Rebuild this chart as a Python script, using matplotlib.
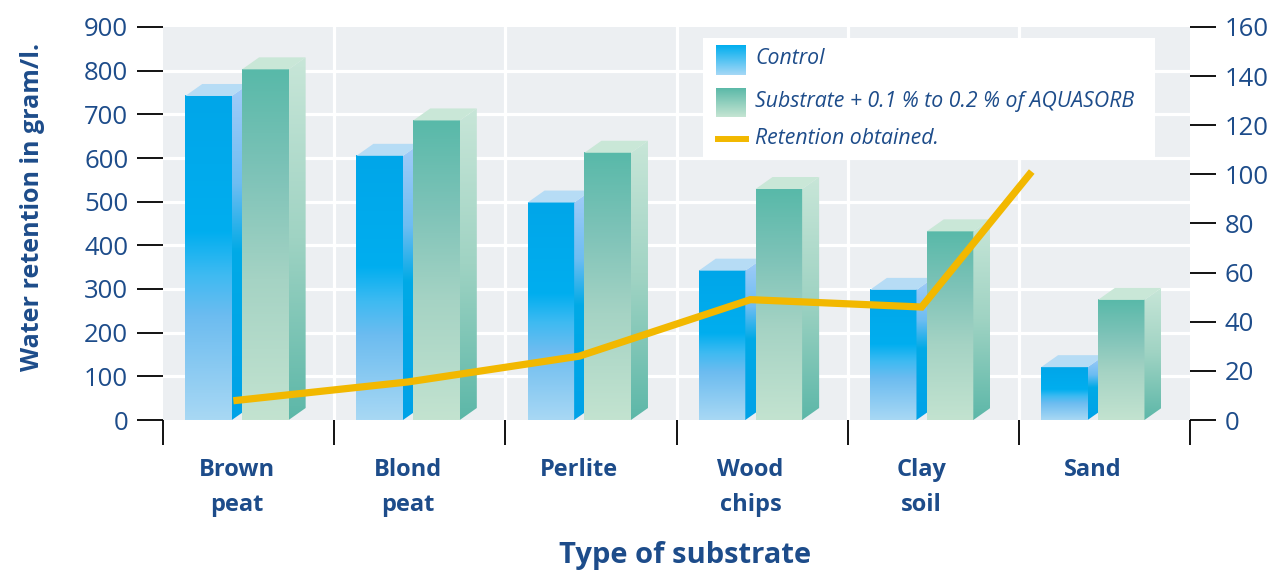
import numpy as np
import matplotlib
matplotlib.use('Agg')
import matplotlib.pyplot as plt
from matplotlib.colors import LinearSegmentedColormap
from matplotlib.patches import Polygon, Rectangle
from matplotlib.lines import Line2D

categories = ['Brown\npeat', 'Blond\npeat', 'Perlite', 'Wood\nchips', 'Clay\nsoil', 'Sand']
control = [742, 605, 498, 342, 298, 121]
aquasorb = [803, 686, 612, 529, 432, 275]
retention = [8, 15.5, 26, 49, 46, 100]
# where the retention readings sit along the category axis
retention_pos = [0, 1, 2, 3, 4, 4.63]

navy = '#1d4c8a'
yellow = '#f2b800'
plt.rcParams['font.family'] = ['Open Sans', 'DejaVu Sans']

W, H = 1275, 575
fig = plt.figure(figsize=(W / 100, H / 100), dpi=100)
ax = fig.add_axes([163 / W, 155 / H, 1027 / W, 393 / H])
ax.set_facecolor('#eceff2')

xmin, xmax = -0.432, 5.568
# 3d depth of the bars (17 px right, 12 px up)
dx = 17 * (xmax - xmin) / 1027
dy = 12 * 900 / 393
bw = 0.272
gap = 0.03

ctrl_front = [(0, '#00a6e9'), (0.42, '#00aeef'), (0.55, '#3dbaf2'), (0.68, '#6cbcf0'), (1, '#a8d8f4')]
ctrl_side = [(0, '#a4ccf8'), (0.3, '#6dbdf2'), (0.5, '#00aae6'), (1, '#00a2e8')]
ctrl_top = '#b6dcf5'
aq_front = [(0, '#58b9a9'), (0.3, '#7ec3b8'), (0.6, '#a5d3c4'), (1, '#c3e3d0')]
aq_side = [(0, '#c8e6d8'), (0.5, '#9fd3c3'), (1, '#5cb7a8')]
aq_top = '#c9e7d7'


def vgrad(stops):
    cmap = LinearSegmentedColormap.from_list('g', stops)
    return cmap(np.linspace(0, 1, 256))[:, None, :]


def bar3d(x0, h, front, side, top, z):
    x1 = x0 + bw
    ax.imshow(vgrad(front), extent=[x0, x1, 0, h], origin='upper',
              aspect='auto', zorder=z, interpolation='bilinear')
    sp = Polygon([(x1, 0), (x1 + dx, dy), (x1 + dx, h + dy), (x1, h)],
                 closed=True, fc='none', ec='none')
    ax.add_patch(sp)
    im = ax.imshow(vgrad(side), extent=[x1, x1 + dx, 0, h + dy], origin='upper',
                   aspect='auto', zorder=z, interpolation='bilinear')
    im.set_clip_path(sp)
    ax.add_patch(Polygon([(x0, h), (x0 + dx, h + dy), (x1 + dx, h + dy), (x1, h)],
                         closed=True, fc=top, ec='none', zorder=z))


for i in range(len(categories)):
    bar3d(i - gap - bw, control[i], ctrl_front, ctrl_side, ctrl_top, 2 + i * 0.1)
    bar3d(i + gap, aquasorb[i], aq_front, aq_side, aq_top, 2.05 + i * 0.1)

bounds = np.arange(len(categories) + 1) + xmin
for v in range(100, 900, 100):
    ax.axhline(v, color='white', lw=2.3, zorder=1)
for b in bounds[1:-1]:
    ax.axvline(b, color='white', lw=2.3, zorder=1)

ax.set_xlim(xmin, xmax)
ax.set_ylim(0, 900)
for s in ax.spines.values():
    s.set_visible(False)

ax.set_xticks(bounds)
ax.set_xticklabels([])
ax.set_xticks(range(len(categories)), categories, minor=True)
ax.tick_params(axis='x', which='major', length=18, width=1.3, color='black')
ax.tick_params(axis='x', which='minor', length=0, pad=27, labelsize=17, labelcolor=navy)
for t in ax.get_xticklabels(minor=True):
    t.set_fontweight('bold')
    t.set_linespacing(1.62)

ax.set_yticks(range(0, 901, 100))
ax.tick_params(axis='y', length=19, width=1.3, pad=6, labelsize=18.5, labelcolor=navy)

ax2 = ax.twinx()
ax2.plot(retention_pos, retention, color=yellow, lw=5.2, solid_joinstyle='miter', zorder=5)
ax2.set_ylim(0, 160)
ax2.set_yticks(range(0, 161, 20))
ax2.tick_params(axis='y', length=19, width=1.3, pad=6, labelsize=18.5, labelcolor=navy)
for s in ax2.spines.values():
    s.set_visible(False)

# legend
fig.add_artist(Rectangle((703 / W, 1 - 157 / H), 452 / W, 119 / H,
                         transform=fig.transFigure, fc='white', ec='none', zorder=5))
sw1 = fig.add_axes([716 / W, 1 - 75 / H, 30 / W, 30 / H], zorder=6)
sw1.imshow(vgrad([(0, '#00aeef'), (1, '#a6d8f6')]), aspect='auto')
sw1.axis('off')
sw2 = fig.add_axes([716 / W, 1 - 117 / H, 30 / W, 29 / H], zorder=6)
sw2.imshow(vgrad([(0, '#5bb9a8'), (1, '#c5e5d3')]), aspect='auto')
sw2.axis('off')
fig.add_artist(Line2D([718 / W, 746 / W], [1 - 139 / H] * 2, transform=fig.transFigure,
                      color=yellow, lw=4.3, zorder=6))
legend_labels = ['Control', 'Substrate + 0.1 % to 0.2 % of AQUASORB', 'Retention obtained.']
for lab, yy in zip(legend_labels, [58, 101, 139]):
    fig.text(755 / W, 1 - yy / H, lab, style='italic', fontsize=15.3, color=navy,
             va='center', zorder=7)

fig.text(33 / W, 1 - 207 / H, 'Water retention in gram/l.', rotation=90, ha='center',
         va='center', fontsize=18, fontweight='bold', color=navy)
fig.text(685 / W, 1 - 555 / H, 'Type of substrate', ha='center', va='center',
         fontsize=21, fontweight='bold', color=navy)

fig.savefig('out.png', dpi=100)
